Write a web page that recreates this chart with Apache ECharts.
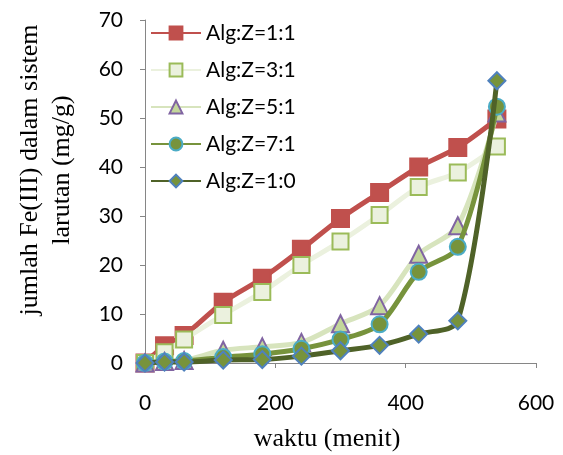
<!DOCTYPE html>
<html><head><meta charset="utf-8">
<script src="https://cdn.jsdelivr.net/npm/echarts@6/dist/echarts.min.js"></script>
<style>html,body{margin:0;padding:0;background:#fff}#c{width:563px;height:455px}</style>
</head><body><div id="c"></div>
<script>
const times = [0, 30, 60, 120, 180, 240, 300, 360, 420, 480, 540];
const alg11 = [0, 3.5, 5.6, 12.4, 17.3, 23.2, 29.5, 34.8, 40.0, 44.0, 49.8];
const alg31 = [0, 2.2, 4.8, 9.8, 14.5, 20.0, 24.8, 30.2, 35.9, 38.9, 44.2];
const alg51 = [0, 0.3, 0.5, 2.6, 3.3, 4.2, 8.0, 11.7, 22.2, 28.0, 51.0];
const alg71 = [0, 0.3, 0.4, 1.2, 1.8, 2.9, 4.8, 7.9, 18.6, 23.7, 52.3];
const alg10 = [0, 0.2, 0.2, 0.6, 0.7, 1.4, 2.5, 3.6, 5.9, 8.6, 57.6];
const names = ['Alg:Z=1:1', 'Alg:Z=3:1', 'Alg:Z=5:1', 'Alg:Z=7:1', 'Alg:Z=1:0'];
const xTitle = 'waktu (menit)';
const yTitle = 'jumlah Fe(III) dalam sistem\nlarutan (mg/g)';

const pairs = arr => times.map((t, i) => [t, arr[i]]);
const styles = [
  {data: alg11, symbol: 'rect', line: '#C0504D', fill: '#C0504D', border: '#C0504D', size: 17},
  {data: alg31, symbol: 'rect', line: '#EBF1DE', fill: '#EBF1DE', border: '#9BBB59', size: 16},
  {data: alg51, symbol: 'triangle', line: '#D7E4BD', fill: '#C3D69B', border: '#8064A2', size: 17},
  {data: alg71, symbol: 'circle', line: '#77933C', fill: '#77933C', border: '#4BACC6', size: 16},
  {data: alg10, symbol: 'diamond', line: '#4F6228', fill: '#77933C', border: '#4F81BD', size: 17}
];
const chart = echarts.init(document.getElementById('c'), null, {renderer: 'canvas'});
chart.setOption({
  animation: false,
  grid: {left: 145, right: 27, top: 20, bottom: 92},
  legend: {
    orient: 'vertical', left: 150, top: 22, padding: 0, itemWidth: 50, itemHeight: 16, itemGap: 15,
    data: names,
    textStyle: {fontFamily: 'Lato', fontSize: 21, color: '#000', lineHeight: 22}
  },
  xAxis: {
    type: 'value', min: 0, max: 600, interval: 200,
    axisLine: {lineStyle: {color: '#868686', width: 1}},
    axisTick: {show: true, length: 5, lineStyle: {color: '#868686'}},
    splitLine: {show: false},
    axisLabel: {fontFamily: 'Lato', fontSize: 21, color: '#000', margin: 30}
  },
  yAxis: {
    type: 'value', min: 0, max: 70, interval: 10,
    axisLine: {show: true, lineStyle: {color: '#868686', width: 1}},
    axisTick: {show: true, length: 5, lineStyle: {color: '#868686'}},
    splitLine: {show: false},
    axisLabel: {fontFamily: 'Lato', fontSize: 21, color: '#000', margin: 22}
  },
  graphic: [
    {type: 'text', x: 327, y: 439, style: {text: xTitle, fontFamily: 'Liberation Serif', fontSize: 26, fill: '#000', textAlign: 'center', textVerticalAlign: 'middle'}},
    {type: 'text', x: 46, y: 170, rotation: Math.PI / 2, style: {text: yTitle, fontFamily: 'Liberation Serif', fontSize: 26, lineHeight: 32, fill: '#000', textAlign: 'center', textVerticalAlign: 'middle'}}
  ],
  series: styles.map((s, i) => ({
    name: names[i], type: 'line', data: pairs(s.data), smooth: 0.3,
    symbol: s.symbol, symbolSize: s.size, showAllSymbol: true,
    lineStyle: {color: s.line, width: 5},
    itemStyle: {color: s.fill, borderColor: s.border, borderWidth: 2},
    z: 2 + i
  }))
});
</script></body></html>
